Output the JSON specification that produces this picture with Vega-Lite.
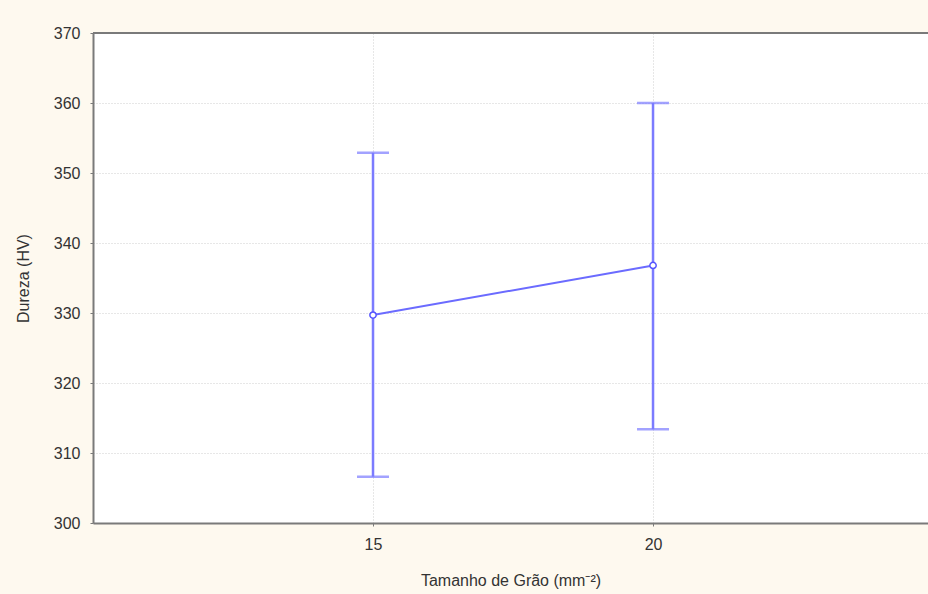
{
  "$schema": "https://vega.github.io/schema/vega-lite/v6.json",
  "autosize": {"type": "none"},
  "width": 835,
  "height": 490,
  "padding": {"left": 93, "top": 33, "right": 0, "bottom": 71},
  "background": "#fef9ef",
  "view": {"stroke": null, "fill": "white"},
  "config": {
    "font": "Liberation Sans",
    "axis": {
      "labelFont": "Liberation Sans",
      "titleFont": "Liberation Sans",
      "labelFontSize": 16,
      "titleFontSize": 16,
      "titleFontWeight": "normal",
      "labelColor": "#333333",
      "titleColor": "#333333",
      "domainColor": "#7a7a7a",
      "domainWidth": 2,
      "tickColor": "#7a7a7a",
      "tickSize": 3,
      "gridColor": "#cfcfcf",
      "gridDash": [1, 2],
      "gridWidth": 1
    }
  },
  "data": {
    "values": [
      {"grain": 15, "mean": 329.7, "lower": 306.6, "upper": 352.9},
      {"grain": 20, "mean": 336.8, "lower": 313.4, "upper": 360.0}
    ]
  },
  "layer": [
    {
      "mark": {"type": "rule", "color": "#7b7bff", "strokeWidth": 2.5},
      "encoding": {
        "x": {
          "field": "grain",
          "type": "quantitative",
          "scale": {"domain": [10, 24.91], "nice": false, "zero": false},
          "axis": {"values": [15, 20], "title": "Tamanho de Grão (mm⁻²)", "labelPadding": 10, "titlePadding": 20, "grid": true}
        },
        "y": {
          "field": "lower",
          "type": "quantitative",
          "scale": {"domain": [300, 370], "nice": false, "zero": false},
          "axis": {"values": [300, 310, 320, 330, 340, 350, 360, 370], "title": "Dureza (HV)", "labelPadding": 10, "titlePadding": 22, "grid": true}
        },
        "y2": {"field": "upper"}
      }
    },
    {
      "mark": {"type": "rule", "color": "#7a7a7a", "strokeWidth": 2},
      "encoding": {"y": {"datum": 370, "type": "quantitative"}}
    },
    {
      "mark": {"type": "tick", "color": "#7b7bff", "orient": "horizontal", "size": 32, "thickness": 2.5},
      "encoding": {"x": {"field": "grain", "type": "quantitative"}, "y": {"field": "lower", "type": "quantitative"}}
    },
    {
      "mark": {"type": "tick", "color": "#7b7bff", "orient": "horizontal", "size": 32, "thickness": 2.5},
      "encoding": {"x": {"field": "grain", "type": "quantitative"}, "y": {"field": "upper", "type": "quantitative"}}
    },
    {
      "mark": {"type": "line", "color": "#6b6bff", "strokeWidth": 2},
      "encoding": {"x": {"field": "grain", "type": "quantitative"}, "y": {"field": "mean", "type": "quantitative"}}
    },
    {
      "mark": {"type": "point", "shape": "circle", "filled": true, "fill": "white", "stroke": "#5555ff", "strokeWidth": 1.5, "size": 40, "opacity": 1},
      "encoding": {"x": {"field": "grain", "type": "quantitative"}, "y": {"field": "mean", "type": "quantitative"}}
    }
  ]
}
